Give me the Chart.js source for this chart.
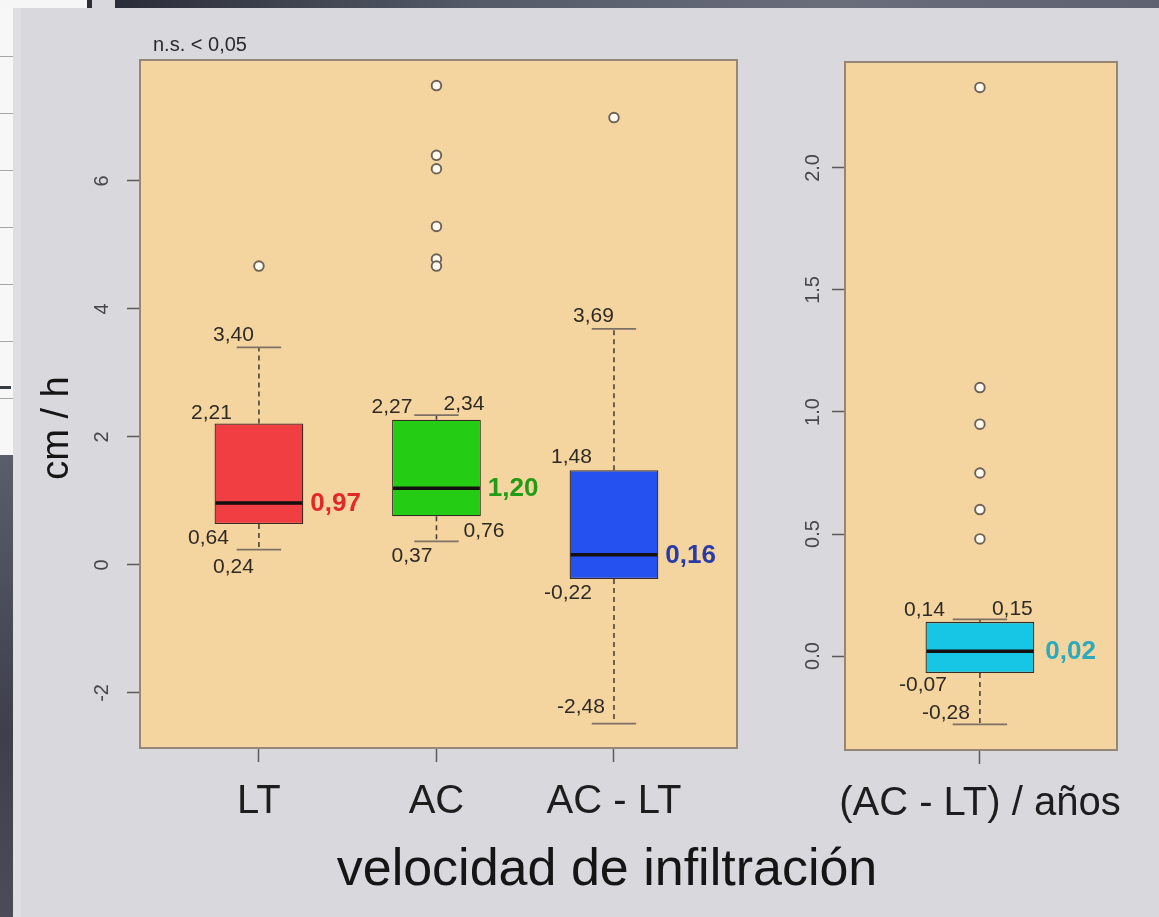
<!DOCTYPE html>
<html>
<head>
<meta charset="utf-8">
<script src="https://cdn.jsdelivr.net/npm/chart.js@4.4.1/dist/chart.umd.min.js"></script>
<style>
  html, body { margin: 0; padding: 0; }
  body {
    width: 1159px; height: 917px; overflow: hidden; position: relative;
    background: #d9d9dd;
    font-family: "Liberation Sans", Arial, sans-serif;
  }
  .deco { position: absolute; }
  #barTop { left: 115px; top: 0; width: 1044px; height: 8px;
    background: linear-gradient(90deg, #2b2e39, #555a68 35%, #6a6e7b 70%, #5d6170); }
  #sheetTop { left: 0; top: 0; width: 87px; height: 8px; background: #f6f6f6; }
  #sheetEdge { left: 87px; top: 0; width: 5px; height: 8px; background: #2e2f35; }
  #sheet { left: 0; top: 0; width: 13px; height: 455px;
    background: repeating-linear-gradient(180deg, #f7f7f7 0 56px, #a6a6a8 56px 57px); }
  #sheetMark { left: 0; top: 386px; width: 11px; height: 3px; background: #3a3c44; }
  #darkSide { left: 0; top: 455px; width: 13px; height: 462px;
    background: linear-gradient(180deg, #5a5e6b, #3d404b 60%, #4a4d58); }
  #innerEdge { left: 13px; top: 8px; width: 8px; height: 909px; background: #dfdfe2; }
  canvas { position: absolute; left: 0; top: 0; }
</style>
</head>
<body>
<div class="deco" id="sheet"></div>
<div class="deco" id="sheetMark"></div>
<div class="deco" id="darkSide"></div>
<div class="deco" id="sheetTop"></div>
<div class="deco" id="sheetEdge"></div>
<div class="deco" id="barTop"></div>
<div class="deco" id="innerEdge"></div>
<canvas id="rateChart" width="1159" height="917"></canvas>
<canvas id="yearChart" width="1159" height="917"></canvas>
<script>
// Infiltration rate (cm / h) for each treatment
const groups = ['LT', 'AC', 'AC - LT'];
const groupPos = [1, 2, 3];
const whiskerLow = [0.24, 0.37, -2.48];
const q1 = [0.64, 0.76, -0.22];
const median = [0.97, 1.20, 0.16];
const q3 = [2.21, 2.27, 1.48];
const whiskerHigh = [3.40, 2.34, 3.69];
const outliers = [[4.67], [7.49, 6.40, 6.19, 5.29, 4.78, 4.67], [6.99]];
const rateTicks = [-2, 0, 2, 4, 6];

// Change per year: (AC - LT) / años
const yearGroups = ['(AC - LT) / años'];
const yearPos = [1];
const yearWhiskerLow = [-0.28];
const yearQ1 = [-0.07];
const yearMedian = [0.02];
const yearQ3 = [0.14];
const yearWhiskerHigh = [0.15];
const yearOutliers = [[2.33, 1.10, 0.95, 0.75, 0.60, 0.48]];
const yearTicks = [0, 0.5, 1, 1.5, 2];

// styling
const FONT = '"Liberation Sans", Arial, sans-serif';
const PANEL_FILL = '#f5d59f';
const FRAME = '#958676';
const WHISKER = '#4e4238';
const CAP = '#7d7064';
const TICK = '#5a5a5a';
const TICK_TEXT = '#474747';
const LABEL_TEXT = '#2e2a26';

const rateFill = ['#f03e42', '#24cc14', '#2451f0'];
const rateValueColor = ['#e42828', '#229c16', '#2a3aa6'];
const yearFill = ['#17c6e4'];
const yearValueColor = ['#2aaabc'];

// [dx from box centre, dy from value, text align]
const ratePlacement = [
  { hi: [-5, -6, 'right'], q3: [-27, -5, 'right'], q1: [-30, 20, 'right'], lo: [-5, 23, 'right'] },
  { hi: [7, -5, 'left'], q3: [-24, -7, 'right'], q1: [27, 21, 'left'], lo: [-4, 21, 'right'] },
  { hi: [0, -7, 'right'], q3: [-22, -7, 'right'], q1: [-22, 20, 'right'], lo: [-9, -11, 'right'] }
];
const yearPlacement = [
  { hi: [12, -4, 'left'], q3: [-35, -6, 'right'], q1: [-33, 18, 'right'], lo: [-10, -5, 'right'] }
];

const fmtComma = v => v.toFixed(2).replace('.', ',');

function boxPanel(cfg) {
  return {
    id: 'boxPanel',
    beforeDraw(chart) {
      const { ctx, chartArea: a } = chart;
      ctx.save();
      ctx.fillStyle = PANEL_FILL;
      ctx.fillRect(a.left, a.top, a.right - a.left, a.bottom - a.top);
      ctx.restore();
    },
    beforeDatasetsDraw(chart) {
      const { ctx } = chart;
      const ys = chart.scales.y;
      const bars = chart.getDatasetMeta(0).data;
      ctx.save();
      bars.forEach((bar, i) => {
        const half = bar.width / 4;
        ctx.strokeStyle = WHISKER;
        ctx.lineWidth = 1.6;
        ctx.setLineDash([5, 4]);
        ctx.beginPath();
        ctx.moveTo(bar.x, ys.getPixelForValue(cfg.q3[i]));
        ctx.lineTo(bar.x, ys.getPixelForValue(cfg.hi[i]));
        ctx.moveTo(bar.x, ys.getPixelForValue(cfg.q1[i]));
        ctx.lineTo(bar.x, ys.getPixelForValue(cfg.lo[i]));
        ctx.stroke();
        ctx.setLineDash([]);
        ctx.strokeStyle = CAP;
        ctx.lineWidth = 1.8;
        ctx.beginPath();
        [cfg.hi[i], cfg.lo[i]].forEach(v => {
          const py = ys.getPixelForValue(v);
          ctx.moveTo(bar.x - half, py);
          ctx.lineTo(bar.x + half, py);
        });
        ctx.stroke();
      });
      ctx.restore();
    },
    afterDatasetsDraw(chart) {
      const { ctx } = chart;
      const ys = chart.scales.y;
      const bars = chart.getDatasetMeta(0).data;
      ctx.save();
      bars.forEach((bar, i) => {
        const my = ys.getPixelForValue(cfg.med[i]);
        ctx.strokeStyle = '#141010';
        ctx.lineWidth = 3.5;
        ctx.beginPath();
        ctx.moveTo(bar.x - bar.width / 2 + 1, my);
        ctx.lineTo(bar.x + bar.width / 2 - 1, my);
        ctx.stroke();

        // five-number labels
        ctx.font = '21px ' + FONT;
        ctx.fillStyle = LABEL_TEXT;
        ctx.textBaseline = 'alphabetic';
        const place = cfg.placement[i];
        const vals = { hi: cfg.hi[i], q3: cfg.q3[i], q1: cfg.q1[i], lo: cfg.lo[i] };
        Object.keys(vals).forEach(k => {
          const [dx, dy, align] = place[k];
          ctx.textAlign = align;
          ctx.fillText(fmtComma(vals[k]), bar.x + dx, ys.getPixelForValue(vals[k]) + dy);
        });

        // median value
        ctx.font = 'bold 26px ' + FONT;
        ctx.fillStyle = cfg.valueColor[i];
        ctx.textAlign = 'left';
        ctx.textBaseline = 'middle';
        ctx.fillText(fmtComma(cfg.med[i]), bar.x + bar.width / 2 + cfg.medGap, my + 1);
      });
      ctx.restore();
    },
    afterDraw(chart) {
      const { ctx, chartArea: a } = chart;
      const ys = chart.scales.y;
      ctx.save();
      ctx.strokeStyle = FRAME;
      ctx.lineWidth = 2;
      ctx.strokeRect(a.left, a.top, a.right - a.left, a.bottom - a.top);

      // rotated y tick labels
      ctx.font = '20px ' + FONT;
      ctx.fillStyle = TICK_TEXT;
      ctx.textAlign = 'center';
      ctx.textBaseline = 'alphabetic';
      ys.ticks.forEach(t => {
        ctx.save();
        ctx.translate(a.left - cfg.tickGap, ys.getPixelForValue(t.value));
        ctx.rotate(-Math.PI / 2);
        ctx.fillText(cfg.tickFmt(t.value), 0, 0);
        ctx.restore();
      });
      if (cfg.extra) cfg.extra(ctx, chart);
      ctx.restore();
    }
  };
}

function makeChart(id, d) {
  return new Chart(document.getElementById(id), {
    type: 'bar',
    data: {
      datasets: [
        {
          type: 'bar',
          data: d.pos.map((x, i) => ({ x, y: [d.q1[i], d.q3[i]] })),
          backgroundColor: d.fill,
          borderColor: '#3b2d26',
          borderWidth: 1.3,
          borderSkipped: false,
          categoryPercentage: 1,
          barPercentage: d.barPct,
          order: 2
        },
        {
          type: 'scatter',
          data: d.out.flatMap((arr, i) => arr.map(v => ({ x: d.pos[i], y: v }))),
          pointRadius: 4.8,
          pointBackgroundColor: '#fffaf0',
          pointBorderColor: '#6c6257',
          pointBorderWidth: 1.9,
          order: 1
        }
      ]
    },
    options: {
      responsive: false,
      animation: false,
      devicePixelRatio: 1,
      events: [],
      layout: { padding: { top: d.top, right: d.right, left: 0, bottom: 0 } },
      plugins: { legend: { display: false }, tooltip: { enabled: false } },
      scales: {
        x: {
          type: 'linear',
          min: d.xmin, max: d.xmax,
          offset: false,
          afterBuildTicks: s => { s.ticks = d.pos.map(v => ({ value: v })); },
          afterFit: s => { s.height = d.xHeight; },
          ticks: {
            autoSkip: false,
            maxRotation: 0, minRotation: 0,
            padding: 16,
            color: '#1d1d1d',
            font: { family: FONT, size: 40 },
            callback: v => d.names[d.pos.indexOf(v)]
          },
          grid: { display: true, drawOnChartArea: false, drawTicks: true, tickLength: 14,
                  tickColor: TICK, tickWidth: 1.5, offset: false },
          border: { display: false }
        },
        y: {
          type: 'linear',
          min: d.ymin, max: d.ymax,
          afterBuildTicks: s => { s.ticks = d.ticks.map(v => ({ value: v })); },
          afterFit: s => { s.width = d.yWidth; },
          ticks: { display: false },
          grid: { display: true, drawOnChartArea: false, drawTicks: true, tickLength: 13,
                  tickColor: TICK, tickWidth: 1.5 },
          border: { display: false }
        }
      }
    },
    plugins: [boxPanel({
      hi: d.hi, q3: d.q3, med: d.med, q1: d.q1, lo: d.lo,
      placement: d.placement, valueColor: d.valueColor, medGap: d.medGap,
      tickFmt: d.tickFmt, tickGap: d.tickGap, extra: d.extra
    })]
  });
}

makeChart('rateChart', {
  names: groups, pos: groupPos,
  lo: whiskerLow, q1, med: median, q3, hi: whiskerHigh, out: outliers,
  ticks: rateTicks, ymin: -2.86, ymax: 7.89, xmin: 0.33, xmax: 3.693,
  fill: rateFill, valueColor: rateValueColor, placement: ratePlacement,
  barPct: 0.5, top: 60, right: 1159 - 737, yWidth: 140, xHeight: 917 - 748,
  medGap: 7, tickGap: 32,
  tickFmt: v => String(v),
  extra: (ctx) => {
    ctx.fillStyle = '#151515';
    ctx.font = '52px ' + FONT;
    ctx.textAlign = 'center';
    ctx.textBaseline = 'alphabetic';
    ctx.fillText('velocidad de infiltración', 607, 885);

    ctx.save();
    ctx.font = '38px ' + FONT;
    ctx.translate(68, 428);
    ctx.rotate(-Math.PI / 2);
    ctx.fillText('cm / h', 0, 0);
    ctx.restore();

    ctx.font = '20px ' + FONT;
    ctx.textAlign = 'left';
    ctx.fillStyle = '#2a2a2a';
    ctx.fillText('n.s. < 0,05', 153, 51);
  }
});

makeChart('yearChart', {
  names: yearGroups, pos: yearPos,
  lo: yearWhiskerLow, q1: yearQ1, med: yearMedian, q3: yearQ3, hi: yearWhiskerHigh, out: yearOutliers,
  ticks: yearTicks, ymin: -0.385, ymax: 2.434, xmin: 0.504, xmax: 1.504,
  fill: yearFill, valueColor: yearValueColor, placement: yearPlacement,
  barPct: 0.4, top: 62, right: 1159 - 1117, yWidth: 845, xHeight: 917 - 750,
  medGap: 11, tickGap: 26,
  tickFmt: v => v.toFixed(1)
});
</script>
</body>
</html>
